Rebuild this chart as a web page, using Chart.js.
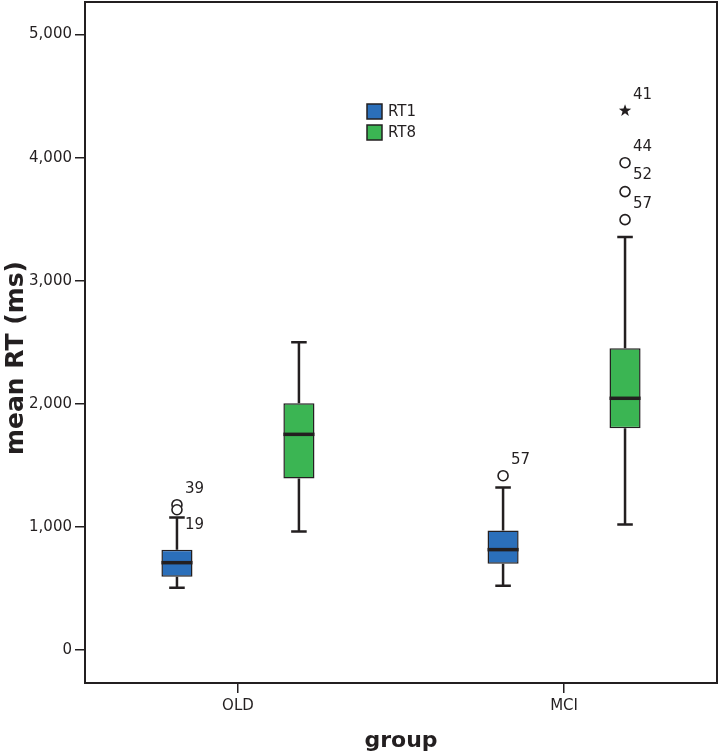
<!DOCTYPE html>
<html>
<head>
<meta charset="utf-8">
<script src="https://cdn.jsdelivr.net/npm/chart.js@4.4.1/dist/chart.umd.min.js"></script>
<style>
  html, body { margin: 0; padding: 0; background: #fff; }
  #wrap { width: 718px; height: 754px; }
</style>
</head>
<body>
<div id="wrap"><canvas id="chart"></canvas></div>
<script>
// groups and series
const groups = ['OLD', 'MCI'];
const seriesNames = ['RT1', 'RT8'];
const seriesColors = ['#2b6fba', '#3bb553'];

// box statistics per group, mean RT in ms
const rt1Min = [505, 521];
const rt1Q1 = [594, 700];
const rt1Median = [708, 814];
const rt1Q3 = [814, 969];
const rt1Max = [1075, 1319];

const rt8Min = [961, 1018];
const rt8Q1 = [1393, 1800];
const rt8Median = [1751, 2044];
const rt8Q3 = [2003, 2451];
const rt8Max = [2500, 3355];

// outliers: group index, series index, value, case number, extreme (star)
const outlierGroup = [0, 0, 1, 1, 1, 1, 1];
const outlierSeries = [0, 0, 0, 1, 1, 1, 1];
const outlierValue = [1179, 1138, 1415, 4382, 3959, 3724, 3496];
const outlierCase = ['39', '19', '57', '41', '44', '52', '57'];
const outlierExtreme = [false, false, false, true, false, false, false];

const yTicks = [0, 1000, 2000, 3000, 4000, 5000];

const ink = '#231f20';
const fontFamily = "'DejaVu Sans', sans-serif";

const stats = [
    { min: rt1Min, q1: rt1Q1, median: rt1Median, q3: rt1Q3, max: rt1Max },
    { min: rt8Min, q1: rt8Q1, median: rt8Median, q3: rt8Q3, max: rt8Max }
];

function drawStar(ctx, cx, cy, outer, inner) {
    ctx.beginPath();
    for (let i = 0; i < 10; i++) {
        const r = i % 2 === 0 ? outer : inner;
        const a = -Math.PI / 2 + i * Math.PI / 5;
        const px = cx + r * Math.cos(a), py = cy + r * Math.sin(a);
        if (i === 0) ctx.moveTo(px, py); else ctx.lineTo(px, py);
    }
    ctx.closePath();
    ctx.fill();
}

// whiskers, medians, outliers, frame, legend and y title
const boxPlugin = {
    id: 'boxPlot',
    beforeDatasetsDraw(chart) {
        const ctx = chart.ctx, y = chart.scales.y;
        ctx.save();
        ctx.strokeStyle = ink;
        ctx.lineWidth = 2.5;
        stats.forEach((s, si) => {
            chart.getDatasetMeta(si).data.forEach((bar, gi) => {
                const x = bar.x, half = bar.width / 4;
                const lines = [[s.q1[gi], s.min[gi]], [s.q3[gi], s.max[gi]]];
                lines.forEach(([from, to]) => {
                    const y0 = y.getPixelForValue(from), y1 = y.getPixelForValue(to);
                    ctx.beginPath();
                    ctx.moveTo(x, y0); ctx.lineTo(x, y1);
                    ctx.moveTo(x - half, y1); ctx.lineTo(x + half, y1);
                    ctx.stroke();
                });
            });
        });
        ctx.restore();
    },
    afterDatasetsDraw(chart) {
        const ctx = chart.ctx, y = chart.scales.y;
        ctx.save();
        // medians
        ctx.strokeStyle = ink;
        ctx.lineWidth = 3.5;
        stats.forEach((s, si) => {
            chart.getDatasetMeta(si).data.forEach((bar, gi) => {
                const py = y.getPixelForValue(s.median[gi]);
                ctx.beginPath();
                ctx.moveTo(bar.x - bar.width / 2, py);
                ctx.lineTo(bar.x + bar.width / 2, py);
                ctx.stroke();
            });
        });
        // outliers
        ctx.font = '15px ' + fontFamily;
        ctx.textAlign = 'left';
        ctx.textBaseline = 'middle';
        const lastLabel = {};
        outlierValue.forEach((v, i) => {
            const bar = chart.getDatasetMeta(outlierSeries[i]).data[outlierGroup[i]];
            const px = bar.x, py = y.getPixelForValue(v);
            ctx.fillStyle = ink;
            ctx.strokeStyle = ink;
            ctx.lineWidth = 1.6;
            if (outlierExtreme[i]) {
                drawStar(ctx, px, py, 6.5, 2.6);
            } else {
                ctx.beginPath();
                ctx.arc(px, py, 5, 0, Math.PI * 2);
                ctx.fillStyle = '#fff';
                ctx.fill();
                ctx.stroke();
            }
            const key = outlierSeries[i] + '_' + outlierGroup[i];
            let ly = py - 16;
            if (lastLabel[key] !== undefined && Math.abs(ly - lastLabel[key]) < 16) ly = py + 15;
            lastLabel[key] = ly;
            ctx.fillStyle = ink;
            ctx.fillText(outlierCase[i], px + 8, ly);
        });
        ctx.restore();
    },
    afterDraw(chart) {
        const ctx = chart.ctx, a = chart.chartArea;
        ctx.save();
        ctx.strokeStyle = ink;
        ctx.lineWidth = 2;
        ctx.strokeRect(a.left, a.top, a.right - a.left, a.bottom - a.top);
        // legend
        const lx = 367, ly = 104, row = 21, size = 15;
        ctx.font = '15px ' + fontFamily;
        ctx.textAlign = 'left';
        ctx.textBaseline = 'middle';
        seriesNames.forEach((name, i) => {
            const top = ly + i * row;
            ctx.fillStyle = seriesColors[i];
            ctx.fillRect(lx, top, size, size);
            ctx.lineWidth = 1.5;
            ctx.strokeRect(lx, top, size, size);
            ctx.fillStyle = ink;
            ctx.fillText(name, lx + size + 6, top + size / 2 + 1);
        });
        // y axis title
        ctx.translate(16, 358);
        ctx.rotate(-Math.PI / 2);
        ctx.textAlign = 'center';
        ctx.font = 'bold 25px ' + fontFamily;
        ctx.fillText('mean RT (ms)', 0, 0);
        ctx.restore();
    }
};

Chart.defaults.font.family = fontFamily;
Chart.defaults.color = ink;

new Chart(document.getElementById('chart'), {
    type: 'bar',
    data: {
        datasets: seriesNames.map((name, si) => ({
            label: name,
            data: groups.map((g, gi) => ({ x: gi, y: [stats[si].q1[gi], stats[si].q3[gi]] })),
            backgroundColor: seriesColors[si],
            borderColor: ink,
            borderWidth: 1.5,
            borderSkipped: false,
            categoryPercentage: 0.748,
            barPercentage: 0.255
        }))
    },
    options: {
        responsive: true,
        maintainAspectRatio: false,
        animation: false,
        layout: { padding: { top: 2, right: 1, left: 0, bottom: 0 } },
        plugins: {
            legend: { display: false },
            tooltip: { enabled: false }
        },
        scales: {
            x: {
                type: 'linear',
                offset: false,
                min: -0.469,
                max: 1.469,
                afterBuildTicks: scale => { scale.ticks = groups.map((g, i) => ({ value: i })); },
                afterFit: scale => { scale.height = 71; scale.paddingLeft = 0; scale.paddingRight = 0; },
                ticks: {
                    callback: v => groups[v],
                    font: { size: 15 },
                    padding: 4,
                    maxRotation: 0
                },
                grid: { offset: false, drawOnChartArea: false, tickLength: 10, color: ink, lineWidth: 1.5 },
                border: { display: false },
                title: {
                    display: true,
                    text: 'group',
                    font: { size: 22, weight: 'bold' },
                    padding: { top: 0, bottom: 0 }
                }
            },
            y: {
                min: -270,
                max: 5265,
                afterBuildTicks: scale => { scale.ticks = yTicks.map(v => ({ value: v })); },
                afterFit: scale => { scale.width = 85; scale.paddingTop = 0; scale.paddingBottom = 0; },
                ticks: {
                    callback: v => v.toLocaleString('en-US'),
                    font: { size: 15 },
                    padding: 3
                },
                grid: { drawOnChartArea: false, tickLength: 10, color: ink, lineWidth: 1.5 },
                border: { display: false }
            }
        }
    },
    plugins: [boxPlugin]
});
</script>
</body>
</html>
